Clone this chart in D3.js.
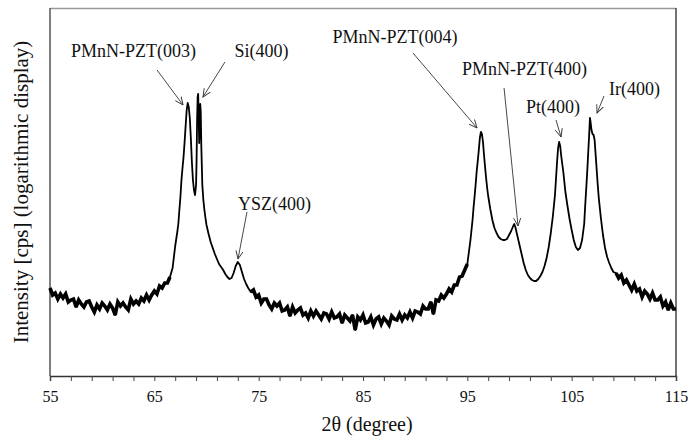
<!DOCTYPE html>
<html>
<head>
<meta charset="utf-8">
<script src="https://cdn.jsdelivr.net/npm/d3@7"></script>
<style>
  body { margin: 0; background: #fff; }
  svg { display: block; }
  svg text { font-family: "Liberation Serif", "Times New Roman", Times, "DejaVu Serif", serif; fill: #111; }
</style>
</head>
<body>
<div id="chart"></div>
<script>
// 2theta (degree) vs log10 intensity
var bgLow = [
  [55.00,1.88],[55.25,1.81],[55.50,1.83],[55.75,1.77],[56.00,1.82],[56.25,1.78],[56.50,1.82],[56.75,1.74],
  [57.00,1.76],[57.25,1.77],[57.50,1.69],[57.75,1.76],[58.00,1.72],[58.25,1.69],[58.50,1.74],[58.75,1.75],
  [59.00,1.69],[59.25,1.64],[59.50,1.71],[59.75,1.67],[60.00,1.73],[60.25,1.70],[60.50,1.66],[60.75,1.72],
  [61.00,1.68],[61.25,1.61],[61.50,1.74],[61.75,1.70],[62.00,1.73],[62.25,1.69],[62.50,1.66],[62.75,1.77],
  [63.00,1.72],[63.25,1.75],[63.50,1.72],[63.75,1.78],[64.00,1.75],[64.25,1.81],[64.50,1.76],[64.75,1.81],
  [65.00,1.85],[65.25,1.82],[65.50,1.90],[65.75,1.88],[66.00,1.93],[66.25,1.93],[66.50,1.99]
];
var peaksLow = [
  [66.75,2.08],[67.0,2.30],[67.1,2.37],[67.2,2.44],[67.3,2.52],[67.4,2.66],[67.5,2.79],[67.6,2.96],
  [67.7,3.08],[67.8,3.19],[67.9,3.34],[68.0,3.50],[68.1,3.66],[68.2,3.73],[68.3,3.69],[68.4,3.58],
  [68.5,3.38],[68.6,3.14],[68.7,2.96],[68.8,2.86],[68.9,2.81],[69.0,2.91],[69.05,3.16],[69.1,3.56],
  [69.15,3.79],[69.2,3.82],[69.25,3.61],[69.3,3.33],[69.35,3.51],[69.4,3.72],[69.45,3.64],[69.5,3.31],
  [69.55,3.11],[69.6,2.91],[69.7,2.76],[69.8,2.66],[69.9,2.58],[70.0,2.51],[70.2,2.42],[70.4,2.34],
  [70.6,2.28],[70.8,2.22],[71.0,2.17],[71.2,2.12],[71.4,2.09],[71.6,2.06],[71.8,2.02],[72.0,1.99],
  [72.2,1.97],[72.4,1.98],[72.6,2.03],[72.8,2.10],[73.0,2.14],[73.2,2.11],[73.4,2.04],[73.6,1.97],
  [73.8,1.92],[74.0,1.88]
];
var bgMid = [
  [74.25,1.84],[74.5,1.86],[74.75,1.79],[75.0,1.81],[75.25,1.73],[75.5,1.77],[75.75,1.77],[76.0,1.71],
  [76.25,1.67],[76.5,1.73],[76.75,1.70],[77.0,1.73],[77.25,1.65],[77.5,1.66],[77.75,1.69],[78.0,1.60],
  [78.25,1.69],[78.5,1.63],[78.75,1.66],[79.0,1.68],[79.25,1.61],[79.5,1.63],[79.75,1.58],[80.0,1.65],
  [80.25,1.60],[80.5,1.65],[80.75,1.61],[81.0,1.57],[81.25,1.63],[81.5,1.62],[81.75,1.57],[82.0,1.64],
  [82.25,1.58],[82.5,1.59],[82.75,1.62],[83.0,1.53],[83.25,1.61],[83.5,1.58],[83.75,1.55],[84.0,1.61],
  [84.25,1.46],[84.5,1.59],[84.75,1.56],[85.0,1.61],[85.25,1.53],[85.5,1.54],[85.75,1.59],[86.0,1.51],
  [86.25,1.57],[86.5,1.59],[86.75,1.52],[87.0,1.58],[87.25,1.55],[87.5,1.51],[87.75,1.60],[88.0,1.57],
  [88.25,1.56],[88.5,1.62],[88.75,1.56],[89.0,1.61],[89.25,1.58],[89.5,1.64],[89.75,1.58],[90.0,1.65],
  [90.25,1.64],[90.5,1.62],[90.75,1.70],[91.0,1.67],[91.25,1.67],[91.5,1.74],[91.75,1.62],[92.0,1.76],
  [92.25,1.75],[92.5,1.81],[92.75,1.78],[93.0,1.82],[93.25,1.87],[93.5,1.84],[93.75,1.91],[94.0,1.91],
  [94.25,1.99],[94.5,2.00],[94.75,2.06],[95.0,2.12]
];
var peaksHigh = [
  [95.1,2.20],[95.2,2.28],[95.3,2.36],[95.4,2.46],[95.5,2.56],[95.6,2.69],[95.7,2.80],[95.8,2.92],
  [95.9,3.05],[96.0,3.15],[96.1,3.26],[96.2,3.38],[96.3,3.44],[96.4,3.42],[96.5,3.34],[96.6,3.21],
  [96.7,3.09],[96.8,2.98],[96.9,2.88],[97.0,2.80],[97.2,2.67],[97.4,2.56],[97.6,2.48],[97.8,2.43],
  [98.0,2.39],[98.2,2.37],[98.4,2.36],[98.6,2.36],[98.8,2.37],[99.0,2.41],[99.2,2.45],[99.4,2.50],
  [99.5,2.52],[99.6,2.49],[99.8,2.40],[100.0,2.31],[100.2,2.22],[100.4,2.13],[100.6,2.06],[100.8,2.01],
  [101.0,1.98],[101.2,1.96],[101.4,1.95],[101.6,1.95],[101.8,1.97],[102.0,2.00],[102.2,2.04],[102.4,2.10],
  [102.6,2.18],[102.8,2.29],[103.0,2.43],[103.2,2.60],[103.4,2.81],[103.6,3.14],[103.7,3.28],[103.8,3.34],
  [103.9,3.30],[104.0,3.20],[104.2,3.04],[104.4,2.84],[104.6,2.70],[104.8,2.57],[105.0,2.46],[105.2,2.36],
  [105.4,2.29],[105.6,2.26],[105.8,2.28],[106.0,2.36],[106.2,2.52],[106.3,2.71],[106.4,2.88],[106.5,3.06],
  [106.6,3.26],[106.7,3.46],[106.75,3.58],[106.8,3.55],[106.9,3.46],[107.0,3.42],[107.1,3.41],[107.2,3.36],
  [107.3,3.21],[107.4,3.06],[107.5,2.91],[107.6,2.78],[107.8,2.58],[108.0,2.41],[108.2,2.28],[108.4,2.19],
  [108.6,2.13],[108.8,2.08],[109.0,2.04]
];
var bgHigh = [
  [109.25,2.03],[109.5,1.98],[109.75,2.01],[110.0,1.93],[110.25,1.96],[110.5,1.91],[110.75,1.86],[111.0,1.92],
  [111.25,1.85],[111.5,1.87],[111.75,1.79],[112.0,1.85],[112.25,1.82],[112.5,1.77],[112.75,1.83],[113.0,1.76],
  [113.25,1.76],[113.5,1.79],[113.75,1.70],[114.0,1.74],[114.25,1.66],[114.5,1.73],[114.75,1.67],[115.0,1.67]
];

var xTicks = [55, 65, 75, 85, 95, 105, 115];

// peak labels: text anchor (2theta, logI), arrow tail, arrow tip
var peakNames = ["PMnN-PZT(003)", "Si(400)", "YSZ(400)", "PMnN-PZT(004)", "PMnN-PZT(400)", "Pt(400)", "Ir(400)"];
var labelAt = [[63.0, 4.19], [75.27, 4.19], [76.52, 2.66], [88.07, 4.33], [100.48, 4.01], [103.21, 3.63], [111.02, 3.81]];
var arrowFrom = [[65.26, 4.06], [71.77, 4.14], [73.88, 2.64], [89.79, 4.23], [98.52, 3.88], [103.5, 3.56], [108.10, 3.80]];
var arrowTo = [[67.75, 3.71], [69.66, 3.79], [73.02, 2.17], [95.93, 3.48], [99.86, 2.50], [103.98, 3.39], [107.43, 3.63]];

var scan = bgLow.concat(peaksLow, bgMid, peaksHigh, bgHigh);

var width = 700, height = 436;
var plotLeft = 50, plotRight = 676, plotTop = 8, plotBottom = 376;

var svg = d3.select('#chart').append('svg').attr('width', width).attr('height', height);

var x = d3.scaleLinear().domain([55, 115]).range([plotLeft, plotRight]);
var y = d3.scaleLinear().domain([1.0, 4.68]).range([plotBottom, plotTop]);

svg.append('defs').append('marker')
  .attr('id', 'head')
  .attr('viewBox', '0 -5 10 10')
  .attr('refX', 9).attr('refY', 0)
  .attr('markerUnits', 'userSpaceOnUse')
  .attr('markerWidth', 9).attr('markerHeight', 9)
  .attr('orient', 'auto')
  .append('path')
  .attr('d', 'M0,-4L9,0L0,4')
  .attr('fill', 'none')
  .attr('stroke', '#333')
  .attr('stroke-width', 1);

// frame
svg.append('line').attr('x1', plotLeft).attr('x2', plotRight).attr('y1', plotTop + 0.5).attr('y2', plotTop + 0.5)
  .attr('stroke', '#999').attr('stroke-width', 1.5);
svg.append('line').attr('x1', plotRight).attr('x2', plotRight).attr('y1', plotTop).attr('y2', plotBottom)
  .attr('stroke', '#444').attr('stroke-width', 1.5);
svg.append('line').attr('x1', plotLeft).attr('x2', plotLeft).attr('y1', plotTop).attr('y2', plotBottom)
  .attr('stroke', '#555').attr('stroke-width', 1.5);

// x axis
var xAxis = d3.axisBottom(x)
  .tickValues(d3.range(55, 116, 2))
  .tickSize(5)
  .tickPadding(10)
  .tickFormat(function(d) { return xTicks.indexOf(d) >= 0 ? d : ''; });

var gx = svg.append('g').attr('transform', 'translate(0,' + plotBottom + ')').call(xAxis);
gx.attr('font-family', null).attr('font-size', null);
gx.select('.domain').attr('stroke', '#333').attr('stroke-width', 1.5);
gx.selectAll('.tick line').attr('stroke', '#444');
gx.selectAll('.tick text').style('font-size', '16px').attr('fill', '#111');

// the scan: thin line everywhere, thicker where the count noise is
var line = d3.line()
  .x(function(d) { return x(d[0]); })
  .y(function(d) { return y(d[1]); });

svg.append('path')
  .datum(scan)
  .attr('d', line)
  .attr('fill', 'none')
  .attr('stroke', '#000')
  .attr('stroke-width', 1.8)
  .attr('stroke-linejoin', 'round');

[bgLow, bgMid, bgHigh].forEach(function(seg) {
  svg.append('path')
    .datum(seg)
    .attr('d', line)
    .attr('fill', 'none')
    .attr('stroke', '#000')
    .attr('stroke-width', 3.6)
    .attr('stroke-linejoin', 'miter')
    .attr('stroke-miterlimit', 3);
});

// annotations
peakNames.forEach(function(name, i) {
  svg.append('line')
    .attr('x1', x(arrowFrom[i][0])).attr('y1', y(arrowFrom[i][1]))
    .attr('x2', x(arrowTo[i][0])).attr('y2', y(arrowTo[i][1]))
    .attr('stroke', '#333').attr('stroke-width', 0.9)
    .attr('marker-end', 'url(#head)');
  svg.append('text')
    .attr('x', x(labelAt[i][0])).attr('y', y(labelAt[i][1]))
    .attr('text-anchor', 'middle')
    .style('font-size', '18px')
    .text(name);
});

// axis titles
svg.append('text')
  .attr('x', 367).attr('y', 431)
  .attr('text-anchor', 'middle')
  .style('font-size', '20px')
  .text('2θ (degree)');

svg.append('text')
  .attr('transform', 'translate(28,192) rotate(-90)')
  .attr('text-anchor', 'middle')
  .style('font-size', '21px')
  .text('Intensity [cps] (logarithmic display)');
</script>
</body>
</html>
